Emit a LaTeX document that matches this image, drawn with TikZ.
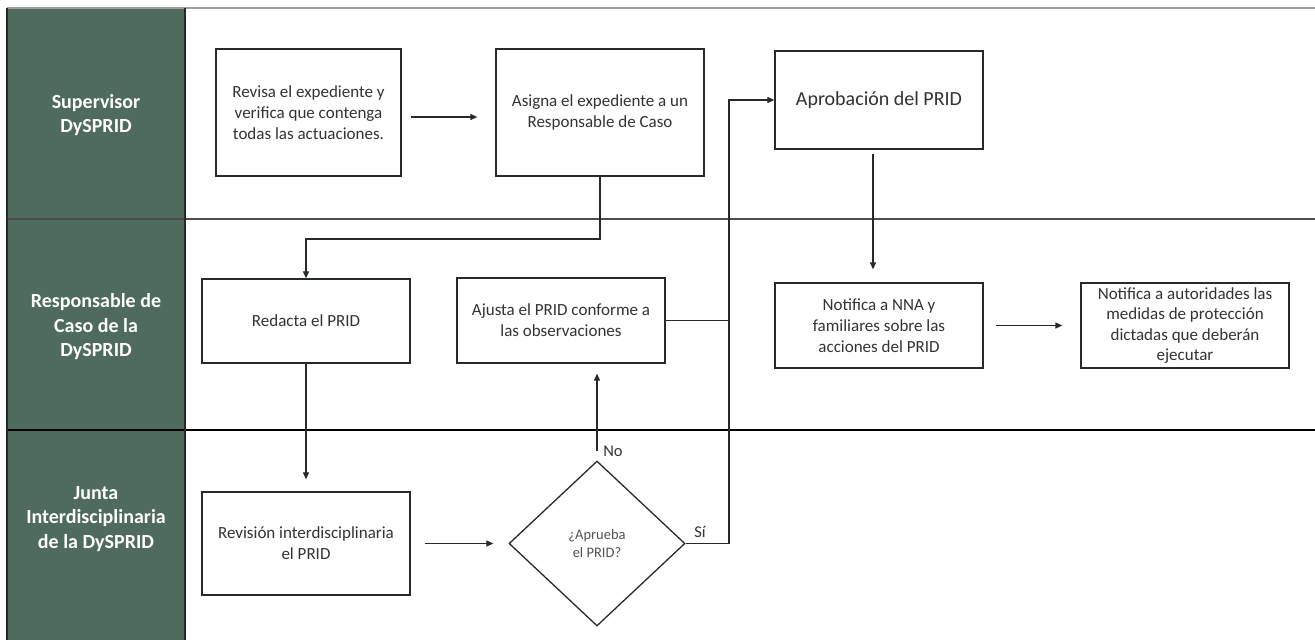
\documentclass[tikz,border=0pt]{standalone}
\usepackage{fontspec}
\setmainfont{Carlito}
\usetikzlibrary{shapes.geometric,arrows.meta,calc}
\definecolor{lanegreen}{HTML}{4E6B5E}
\definecolor{linec}{HTML}{262B29}
\definecolor{txtc}{HTML}{333333}
\begin{document}
\begin{tikzpicture}[x=1pt,y=-1pt,
  box/.style={draw=linec, line width=1.3pt, fill=white, inner sep=1pt, align=center,
    font=\fontsize{17}{21}\selectfont, text=txtc},
  arr/.style={-{Triangle[length=7pt,width=6pt]}, draw=linec, line width=1.2pt},
  conn/.style={draw=linec, line width=1.2pt},
  lanelbl/.style={text=white, font=\bfseries\fontsize{20}{24.5}\selectfont, align=center},
  lbl/.style={text=txtc, font=\fontsize{16.5}{19}\selectfont, inner sep=0pt}]
\useasboundingbox (0,0) rectangle (1315,640);
% lanes
\fill[lanegreen] (7,8) rectangle (185,640);
\draw[gray!75, line width=2pt] (7,8) -- (1315,8);
\draw[gray!60!black, line width=1.3pt] (7,219) -- (1315,219);
\draw[black, line width=1.3pt] (7,430) -- (1315,430);
\draw[linec, line width=1.2pt] (7,8) -- (7,640);
\draw[linec, line width=1.2pt] (185,8) -- (185,640);
\node[lanelbl] (l1) at (96,115) {Supervisor\\DySPRID};
\node[lanelbl] (l2) at (96,327) {Responsable de\\Caso de la\\DySPRID};
\node[lanelbl] (l3) at (96,519) {Junta\\Interdisciplinaria\\de la DySPRID};
% boxes
\node[box, minimum width=185pt, minimum height=127pt] (b1) at (308.5,112.5) {Revisa el expediente y\\verifica que contenga\\todas las actuaciones.};
\node[box, minimum width=208pt, minimum height=127pt] (b2) at (600,112.5) {Asigna el expediente a un\\Responsable de Caso};
\node[box, minimum width=208pt, minimum height=98pt, font=\fontsize{20}{24}\selectfont] (b3) at (879,100) {Aprobación del PRID};
\node[box, minimum width=208pt, minimum height=84pt] (b4) at (306,321) {Redacta el PRID};
\node[box, minimum width=208pt, minimum height=85pt] (b5) at (561,320.5) {Ajusta el PRID conforme a\\las observaciones};
\node[box, minimum width=208pt, minimum height=85pt] (b6) at (879,325.5) {Notifica a NNA y\\familiares sobre las\\acciones del PRID};
\node[box, minimum width=208pt, minimum height=85pt, inner sep=0pt, font=\fontsize{17}{20.3}\selectfont] (b7) at (1185,325.5) {Notifica a autoridades las\\medidas de protección\\dictadas que deberán\\ejecutar};
\node[box, minimum width=208pt, minimum height=103pt] (b8) at (306,543.5) {Revisión interdisciplinaria\\el PRID};
\node[draw=linec, line width=1.3pt, diamond, aspect=1.07, minimum width=176pt, minimum height=165pt,
  inner sep=0pt, align=center, font=\fontsize{14.5}{18}\selectfont, text=txtc!85] (d) at (597,543.5) {¿Aprueba\\el PRID?};
\node[lbl] (no) at (613,451) {No};
\node[lbl] (si) at (700,532) {Sí};
% connectors
\coordinate (j1) at (600,239);
\coordinate (j2) at (729,543.5);
\draw[arr, shorten <=9pt, shorten >=18pt] ([yshift=-4.5pt]b1.east) -- ([yshift=-4.5pt]b2.west);
\draw[arr] (b2.south) -- (j1) -| (b4.north);
\draw[arr, shorten >=12pt] (b4.south) -- (b8.north);
\draw[arr, shorten <=14pt, shorten >=15pt] (b8.east) -- (d.west);
\draw[arr, shorten <=9pt, shorten >=10pt] (d.north) -- (d.north |- b5.south);
\draw[arr] (d.east) -- (j2) |- (b3.west);
\draw[conn] (b5.east) -- (b5.east -| j2);
\draw[arr, shorten <=4pt, shorten >=13pt] ([xshift=-6pt]b3.south) -- ([xshift=-6pt]b6.north);
\draw[arr, shorten <=12pt, shorten >=18pt] (b6.east) -- (b7.west);
\end{tikzpicture}
\end{document}
